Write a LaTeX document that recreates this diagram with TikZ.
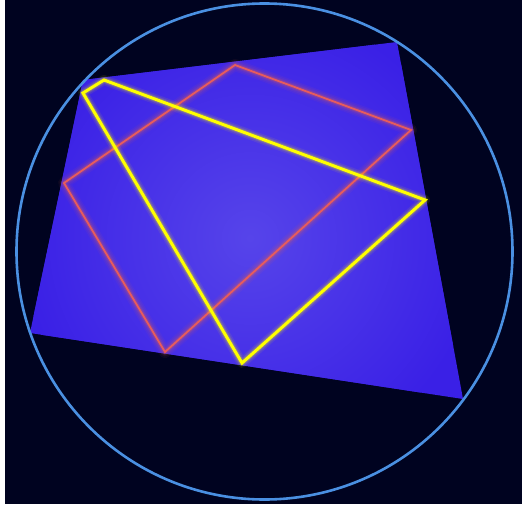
\documentclass[tikz,border=0pt]{standalone}
\usepackage{tikz}
\usetikzlibrary{calc}
\definecolor{nightbg}{RGB}{0,3,32}
\definecolor{ringblue}{RGB}{74,144,226}
\definecolor{quadblue}{RGB}{58,32,230}
\definecolor{quadglow}{RGB}{86,68,234}
\definecolor{squarered}{RGB}{232,92,92}
\definecolor{trigold}{RGB}{255,255,0}
\tikzset{
  ring/.style={draw=ringblue, line width=2.6pt},
  redline/.style={draw=squarered, line width=1.8pt, line join=miter},
  yellowline/.style={draw=trigold, line width=3pt, line join=miter}
}
\begin{document}
\begin{tikzpicture}[x=1pt, y=-1pt]
    \useasboundingbox (0,0) rectangle (522,506);
    % page and dark backdrop
    \fill[white] (0,0) rectangle (522,506);
    \fill[nightbg] (5,0) rectangle (522,504);
    % corner points
    \coordinate (q1) at (83,80);   \coordinate (q2) at (397,42);
    \coordinate (q3) at (463,399); \coordinate (q4) at (30,333);
    \coordinate (r1) at (235,65);  \coordinate (r2) at (411,130);
    \coordinate (r3) at (165,352); \coordinate (r4) at (64,183);
    \coordinate (t1) at (83,93);   \coordinate (t2) at (104,80);
    \coordinate (t3) at (425,200); \coordinate (t4) at (242,363);
    % blue quadrilateral with soft centre
    \fill[quadblue] (q1) -- (q2) -- (q3) -- (q4) -- cycle;
    \begin{scope}
        \clip (q1) -- (q2) -- (q3) -- (q4) -- cycle;
        \shade[inner color=quadglow, outer color=quadblue] (250,238) circle (230);
    \end{scope}
    % red square (glow first)
    \foreach \w/\o in {12/0.06, 9/0.08, 6/0.12, 4/0.2} {
        \draw[squarered!80!orange, line width=\w pt, opacity=\o, line join=round]
            (r1) -- (r2) -- (r3) -- (r4) -- cycle;
    }
    \draw[redline] (r1) -- (r2) -- (r3) -- (r4) -- cycle;
    % yellow quadrilateral (glow first)
    \foreach \w/\o in {10/0.08, 7/0.12, 5/0.2} {
        \draw[trigold, line width=\w pt, opacity=\o, line join=round]
            (t1) -- (t2) -- (t3) -- (t4) -- cycle;
    }
    \draw[yellowline] (t1) -- (t2) -- (t3) -- (t4) -- cycle;
    % outer ring
    \draw[ring] (264.5,251.5) circle (248);
\end{tikzpicture}
\end{document}
